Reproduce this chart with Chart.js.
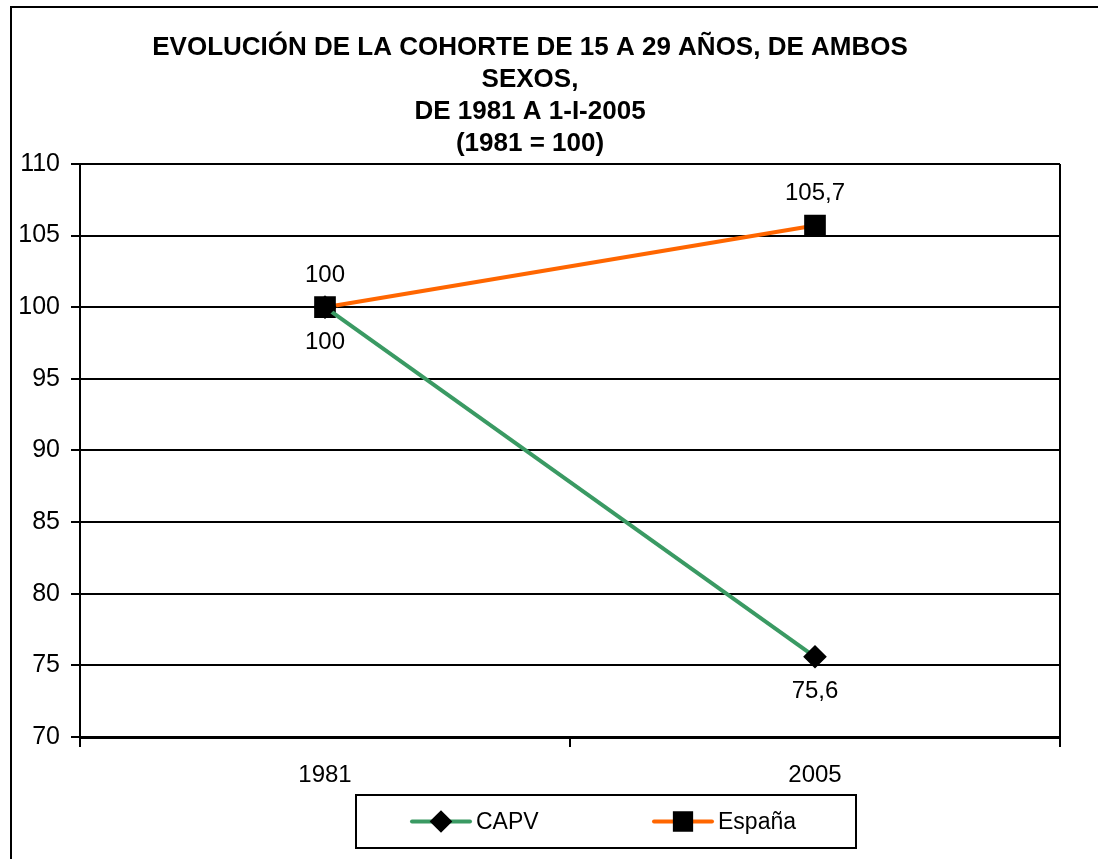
<!DOCTYPE html>
<html lang="es">
<head>
  <meta charset="UTF-8">
  <title>Evolución de la cohorte de 15 a 29 años</title>
  <script src="https://cdn.jsdelivr.net/npm/chart.js"></script>
  <style>
    html, body { margin: 0; padding: 0; background: #fff; }
    #wrap { width: 1098px; height: 859px; position: relative; }
  </style>
</head>
<body>
  <div id="wrap"><canvas id="chart" width="1098" height="859"></canvas></div>

  <script>
    const categories = ['1981', '2005'];
    const capvValues = [100, 75.6];
    const espanaValues = [100, 105.7];
    const yMin = 70, yMax = 110, yStep = 5;
    const titleLines = [
      'EVOLUCIÓN DE LA COHORTE DE 15 A 29 AÑOS, DE AMBOS',
      'SEXOS,',
      'DE 1981 A 1-I-2005',
      '(1981 = 100)'
    ];

    const FONT = 'Arial, "Liberation Sans", sans-serif';
    const GREEN = '#3a9a63';
    const ORANGE = '#ff6600';

    const fmt = v => String(v).replace('.', ',');

    // etiquetas de valor encima / debajo de cada punto
    const valueLabels = {
      id: 'valueLabels',
      afterDatasetsDraw(chart) {
        const ctx = chart.ctx;
        ctx.save();
        ctx.font = '24px ' + FONT;
        ctx.fillStyle = '#000';
        ctx.textAlign = 'center';
        ctx.textBaseline = 'middle';
        chart.data.datasets.forEach((ds, i) => {
          const meta = chart.getDatasetMeta(i);
          meta.data.forEach((pt, j) => {
            const dy = ds.labelPos === 'above' ? -32 : 35;
            ctx.fillText(fmt(ds.data[j]), pt.x, pt.y + dy);
          });
        });
        ctx.restore();
      }
    };

    // marco exterior, borde derecho del área y leyenda con recuadro
    const frame = {
      id: 'frame',
      afterDraw(chart) {
        const ctx = chart.ctx;
        const a = chart.chartArea;
        ctx.save();
        ctx.strokeStyle = '#000';
        ctx.lineWidth = 2;
        ctx.strokeRect(11, 7, 1200, 1000);
        ctx.beginPath();
        ctx.moveTo(a.right, a.top);
        ctx.lineTo(a.right, a.bottom);
        ctx.stroke();

        // leyenda
        const bx = 356, by = 795, bw = 500, bh = 53;
        ctx.strokeRect(bx, by, bw, bh);
        const cy = by + bh / 2;
        const items = [
          { x: 412, ds: chart.data.datasets[0], r: 8.5 },
          { x: 654, ds: chart.data.datasets[1], r: 11.5 }
        ];
        items.forEach(it => {
          ctx.strokeStyle = it.ds.borderColor;
          ctx.lineWidth = 4;
          ctx.lineCap = 'round';
          ctx.beginPath();
          ctx.moveTo(it.x, cy);
          ctx.lineTo(it.x + 58, cy);
          ctx.stroke();
          ctx.fillStyle = '#000';
          ctx.strokeStyle = '#000';
          Chart.helpers.drawPoint(ctx, {
            pointStyle: it.ds.pointStyle,
            radius: it.r,
            borderWidth: 1,
            rotation: 0
          }, it.x + 29, cy);
          ctx.font = '23px ' + FONT;
          ctx.textAlign = 'left';
          ctx.textBaseline = 'middle';
          ctx.fillText(it.ds.label, it.x + 64, cy + 1);
        });
        ctx.restore();
      }
    };

    new Chart(document.getElementById('chart'), {
      type: 'line',
      data: {
        labels: categories,
        datasets: [
          {
            label: 'CAPV',
            data: capvValues,
            borderColor: GREEN,
            borderWidth: 4,
            pointStyle: 'rectRot',
            pointRadius: 9,
            pointBackgroundColor: '#000',
            pointBorderColor: '#000',
            labelPos: 'below'
          },
          {
            label: 'España',
            data: espanaValues,
            borderColor: ORANGE,
            borderWidth: 4,
            pointStyle: 'rect',
            pointRadius: 12.5,
            pointBackgroundColor: '#000',
            pointBorderColor: '#000',
            labelPos: 'above'
          }
        ]
      },
      options: {
        responsive: false,
        animation: false,
        layout: { padding: { left: 0, right: 38, top: 0, bottom: 62 } },
        plugins: {
          legend: { display: false },
          tooltip: { enabled: false },
          title: {
            display: true,
            text: titleLines,
            color: '#000',
            font: { family: FONT, size: 26, weight: 'bold', lineHeight: 1.23 },
            padding: { top: 32, bottom: 4 }
          }
        },
        scales: {
          x: {
            offset: true,
            grid: {
              offset: true,
              drawOnChartArea: false,
              color: '#000',
              lineWidth: 2,
              tickLength: 10
            },
            border: { color: '#000', width: 3 },
            ticks: { color: '#000', font: { family: FONT, size: 24 }, padding: 14 },
            afterFit(scale) { scale.height = 60; }
          },
          y: {
            min: yMin,
            max: yMax,
            grid: { color: '#000', lineWidth: 2, tickLength: 9 },
            border: { color: '#000', width: 2 },
            ticks: {
              stepSize: yStep,
              color: '#000',
              font: { family: FONT, size: 25 },
              padding: 11
            },
            afterFit(scale) { scale.width = 80; }
          }
        }
      },
      plugins: [valueLabels, frame]
    });
  </script>
</body>
</html>
